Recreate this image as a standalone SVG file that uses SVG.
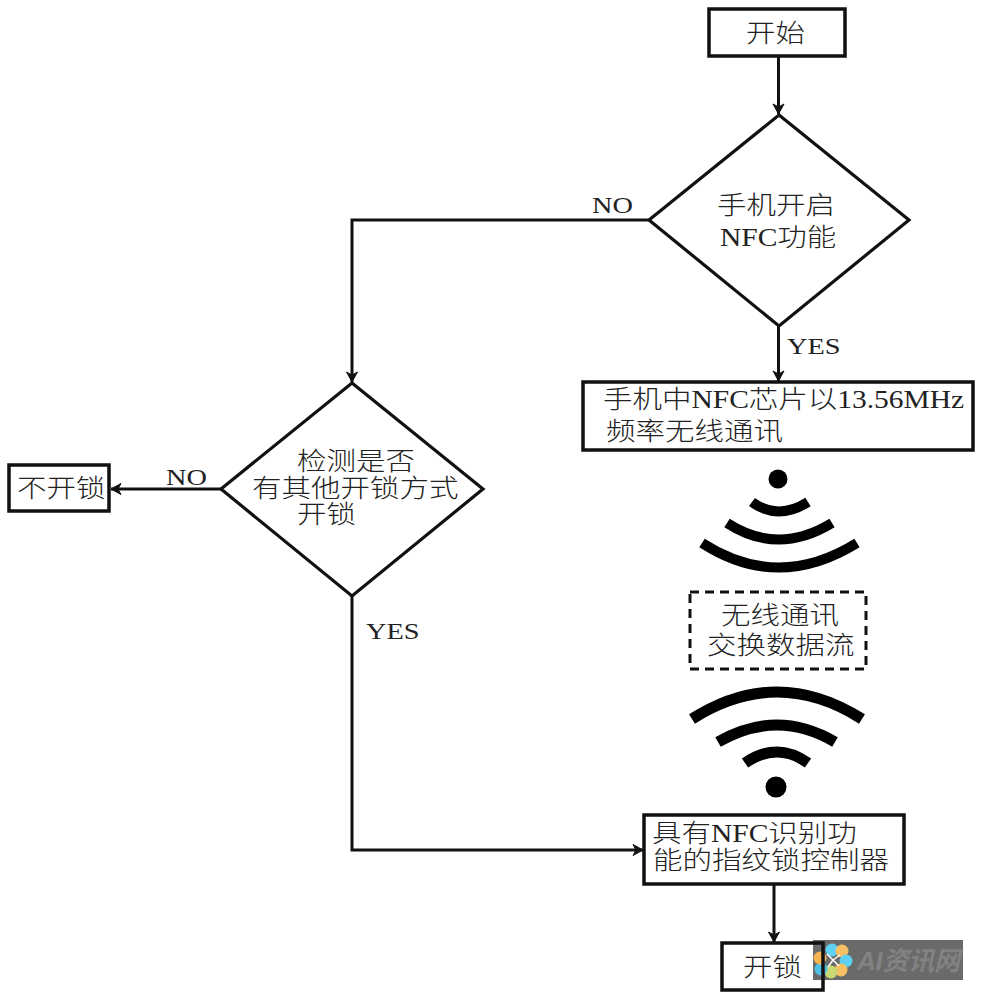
<svg xmlns="http://www.w3.org/2000/svg" width="983" height="1000" viewBox="0 0 983 1000">
  <style>
    text { font-family: "Liberation Serif", "Noto Sans CJK SC", serif; font-size: 25px; fill: #222; font-weight: 300; }
    .latin { font-size: 24px; font-weight: 400; }
    .box { fill: #fff; stroke: #111; stroke-width: 3.5; }
    .open { fill: none; }
    .dec { fill: #fff; stroke: #111; stroke-width: 3.2; stroke-linejoin: miter; }
    .dash { fill: none; stroke: #111; stroke-width: 3; stroke-dasharray: 9 6; }
    .wire { fill: none; stroke: #111; stroke-width: 3; }
    .wave { fill: none; stroke: #000; stroke-width: 10; }
    .wave-b { fill: none; stroke: #000; stroke-width: 11; }
    .mark { font-family: "Liberation Sans", "Noto Sans CJK SC", sans-serif; font-size: 26px; font-weight: 700; font-style: italic; fill: #828282; }
  </style>
  <defs>
    <marker id="head" viewBox="-11 -7 13 14" refX="0" refY="0" markerWidth="13" markerHeight="14" markerUnits="userSpaceOnUse" orient="auto">
      <path d="M-10,-5.5 L0,0 L-10,5.5 L-7,0 Z" fill="#111" stroke="#111" stroke-width="1"/>
    </marker>
  </defs>
  <rect width="983" height="1000" fill="#fff"/>

  <g id="watermark">
    <rect x="813" y="940" width="150" height="40" fill="#6a6a6a"/>
    <g id="flower" transform="translate(833,960)">
      <circle cx="-1" cy="-10" r="6.5" fill="#5ed0f2"/>
      <circle cx="9" cy="-9" r="6.5" fill="#f6c063"/>
      <circle cx="13" cy="1" r="6.5" fill="#5ed0f2"/>
      <circle cx="8" cy="10" r="6.5" fill="#f6c063"/>
      <circle cx="-2" cy="12" r="6.5" fill="#c8d974"/>
      <circle cx="-12" cy="9" r="6.5" fill="#4fc0e4"/>
      <circle cx="-13" cy="-2" r="6.5" fill="#f6b551"/>
      <path d="M0,0 L-6,-6 M0,0 L7,-5 M0,0 L6,6 M0,0 L-5,7" stroke="#fff" stroke-width="1.5"/>
    </g>
    <text class="mark" x="857" y="970" textLength="103">AI资讯网</text>
  </g>

  <g id="connectors">
    <path class="wire" marker-end="url(#head)" d="M778.5,56 V114"/>
    <path class="wire" marker-end="url(#head)" d="M778.5,326 V381"/>
    <path class="wire" marker-end="url(#head)" d="M649,220 H352 V382"/>
    <path class="wire" marker-end="url(#head)" d="M221,489 H111"/>
    <path class="wire" marker-end="url(#head)" d="M352,596 V850 H643"/>
    <path class="wire" marker-end="url(#head)" d="M774,884 V942"/>
  </g>

  <g id="start">
    <rect class="box" x="709" y="9" width="136" height="47"/>
    <text transform="translate(746 42) scale(1.18 1)">开始</text>
  </g>
  <g id="nfc-check">
    <polygon class="dec" points="779,115 909,220 779,326 649,220"/>
    <text transform="translate(717 214) scale(1.18 1)">手机开启</text>
    <text transform="translate(720 246) scale(1.18 1)">NFC功能</text>
  </g>
  <g id="phone-chip">
    <rect class="box" x="583" y="382" width="390" height="68"/>
    <text transform="translate(603 408) scale(1.18 1)">手机中NFC芯片以13.56MHz</text>
    <text transform="translate(606 440) scale(1.18 1)">频率无线通讯</text>
  </g>
  <g id="other-check">
    <polygon class="dec" points="352,383 483,489 352,596 221,489"/>
    <text transform="translate(297 470) scale(1.18 1)">检测是否</text>
    <text transform="translate(252 497) scale(1.18 1)">有其他开锁方式</text>
    <text transform="translate(297 523) scale(1.18 1)">开锁</text>
  </g>
  <g id="no-unlock">
    <rect class="box" x="9" y="465" width="100" height="46"/>
    <text transform="translate(17 497) scale(1.18 1)">不开锁</text>
  </g>
  <g id="data-flow">
    <rect class="dash" x="690" y="592" width="176" height="77"/>
    <text transform="translate(721 624) scale(1.18 1)">无线通讯</text>
    <text transform="translate(707 654) scale(1.18 1)">交换数据流</text>
  </g>
  <g id="lock-controller">
    <rect class="box" x="644" y="815" width="260" height="69"/>
    <text transform="translate(652 842) scale(1.18 1)">具有NFC识别功</text>
    <text transform="translate(653 869) scale(1.18 1)">能的指纹锁控制器</text>
  </g>
  <g id="unlock">
    <rect class="box open" x="722" y="943" width="101" height="47"/>
    <text transform="translate(743 976) scale(1.18 1)">开锁</text>
  </g>

  <g id="labels">
    <text class="latin" transform="translate(592 213) scale(1.18 1)">NO</text>
    <text class="latin" transform="translate(787 354) scale(1.18 1)">YES</text>
    <text class="latin" transform="translate(166 485) scale(1.18 1)">NO</text>
    <text class="latin" transform="translate(366 639) scale(1.18 1)">YES</text>
  </g>

  <!-- radio waves either side of the data-flow box -->
  <g id="waves-top">
    <circle cx="778" cy="479" r="9.5"/>
    <path class="wave" d="M752,502 Q778,521 808,502"/>
    <path class="wave" d="M727,523 Q778,556 832,523"/>
    <path class="wave" d="M702,543 Q778,592 857,543"/>
  </g>
  <g id="waves-bottom">
    <path class="wave-b" d="M692,719 Q777,665 862,719"/>
    <path class="wave-b" d="M718,742 Q777,708 835,742"/>
    <path class="wave-b" d="M745,763 Q777,741 808,763"/>
    <circle cx="776" cy="787" r="10.5"/>
  </g>
</svg>
